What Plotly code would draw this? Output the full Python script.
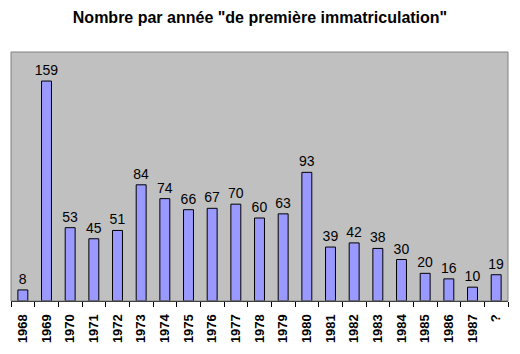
import plotly.graph_objects as go

categories = ["1968", "1969", "1970", "1971", "1972", "1973", "1974", "1975", "1976", "1977",
              "1978", "1979", "1980", "1981", "1982", "1983", "1984", "1985", "1986", "1987", "?"]
values = [8, 159, 53, 45, 51, 84, 74, 66, 67, 70, 60, 63, 93, 39, 42, 38, 30, 20, 16, 10, 19]

fig = go.Figure(go.Bar(
    x=categories, y=values,
    marker=dict(color="#9999FF", line=dict(color="#000000", width=1)),
    width=0.42,
    text=[str(v) for v in values], textposition="outside", textangle=0,
    constraintext="none",
    textfont=dict(family="Liberation Sans, Arial", size=14, color="#000000"),
    cliponaxis=False,
))

fig.update_layout(
    width=520, height=354,
    margin=dict(l=11, r=12, t=52, b=53),
    paper_bgcolor="white", plot_bgcolor="#C0C0C0",
    title=dict(text="<b>Nombre par année \"de première immatriculation\"</b>",
               x=0.5, xanchor="center", y=0.952, yanchor="middle",
               font=dict(family="Liberation Sans, Arial", size=16, color="#000000")),
    showlegend=False,
    xaxis=dict(type="category", tickangle=-90, ticks="outside", ticklen=5, tickcolor="#000000",
               tickson="boundaries", showline=True, linecolor="#000000", linewidth=1,
               ticklabelstandoff=7,
               tickfont=dict(family="Liberation Sans, Arial", size=13, color="#000000"),
               showgrid=False),
    yaxis=dict(range=[0, 180], visible=False, showgrid=False),
    shapes=[dict(type="rect", xref="paper", yref="paper", x0=0, x1=1, y0=0, y1=1,
                 line=dict(color="#808080", width=1), fillcolor="rgba(0,0,0,0)")],
)
fig.update_xaxes(tickprefix="<b>", ticksuffix="</b>")

fig.write_html("out.html")
